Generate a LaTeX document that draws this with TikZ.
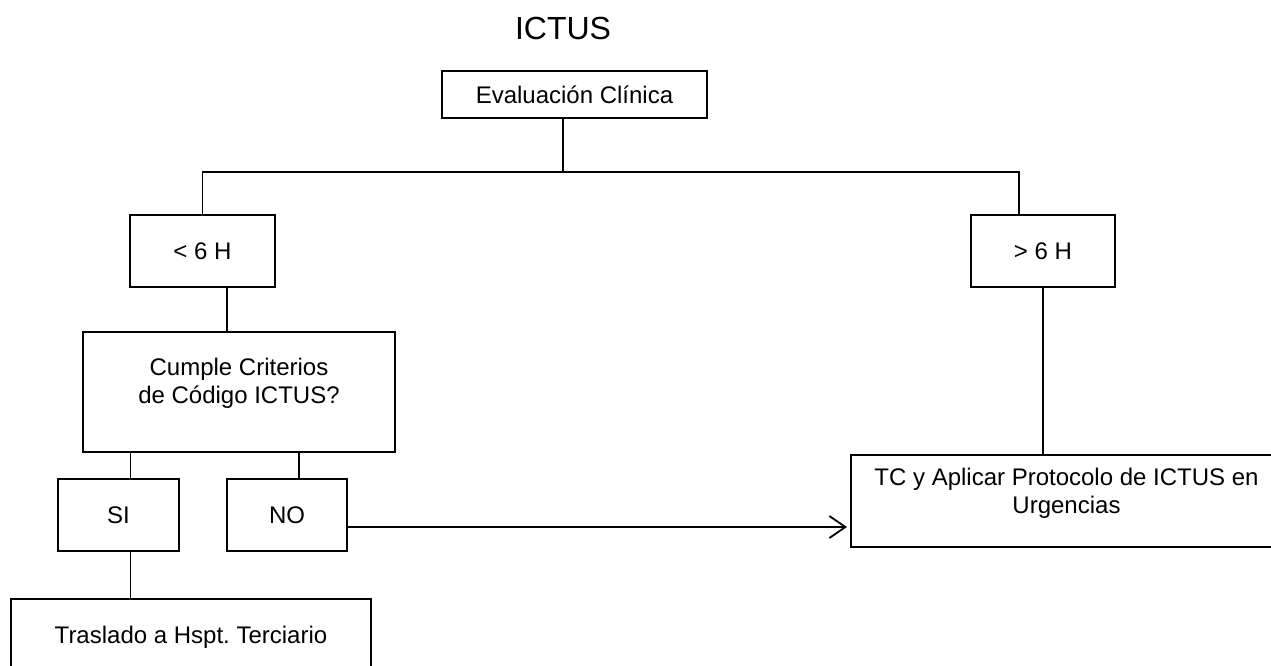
\documentclass[tikz,border=0pt]{standalone}
\usepackage{fontspec}
\setmainfont{Liberation Sans}
\usetikzlibrary{arrows.meta}
\frenchspacing

\tikzset{
  box/.style={draw, line width=2pt, inner sep=0pt, align=center,
    font=\fontsize{24}{27.6}\selectfont},
  txt/.style={inner sep=0pt, align=center, font=\fontsize{24}{27.6}\selectfont},
  link/.style={line width=1.8pt},
}

\begin{document}
\begin{tikzpicture}[x=1pt,y=-1pt]
    \useasboundingbox (0,0) rectangle (1271,665);
    \node[txt, font=\fontsize{32}{36}\selectfont] (title) at (563,28) {ICTUS};
    % boxes: name/x/y/width/height/text
    \foreach \n/\x/\y/\w/\h/\t in {eval/574.5/94.5/265/47/Evaluación Clínica,
        lt/202.5/251/145/72/< 6 H, rt/1043/251/144/72/> 6 H,
        crit/239/392/312/120/, si/118.5/515/121/72/SI, no/287/515/120/72/NO,
        trasl/191/637/360/76/Traslado a Hspt. Terciario, tc/1066.5/501/431/92/}{
        \node[box, minimum width=\w pt, minimum height=\h pt] (\n) at (\x,\y) {\t};
    }
    \node[txt] (crittxt) at (239,383) {Cumple Criterios\\de Código ICTUS?};
    \node[txt] (tctxt) at (1066.5,493) {TC y Aplicar Protocolo de ICTUS en\\Urgencias};
    % connectors
    \coordinate (split) at (563,172);
    \coordinate (rtin) at ([xshift=-24pt]rt.north);
    \draw[link] (eval.south -| split) -- (split);
    \draw[link] (lt.north) -- (lt.north |- split) -- (rtin |- split) -- (rtin);
    \draw[link] ([xshift=24.5pt]lt.south) -- ([xshift=24.5pt]lt.south |- crit.north);
    \draw[link] (rt.south) -- (rt.south |- tc.north);
    \draw[link] ([xshift=12pt]si.north |- crit.south) -- ([xshift=12pt]si.north);
    \draw[link] ([xshift=12pt]no.north |- crit.south) -- ([xshift=12pt]no.north);
    \draw[link] ([xshift=12pt]si.south) -- ([xshift=12pt]si.south |- trasl.north);
    \draw[link, -{Straight Barb[length=16pt,width=22pt,line width=1.8pt]}, shorten >=3pt]
        ([yshift=-12pt]no.east) -- ([yshift=-12pt]no.east -| tc.west);
\end{tikzpicture}
\end{document}
